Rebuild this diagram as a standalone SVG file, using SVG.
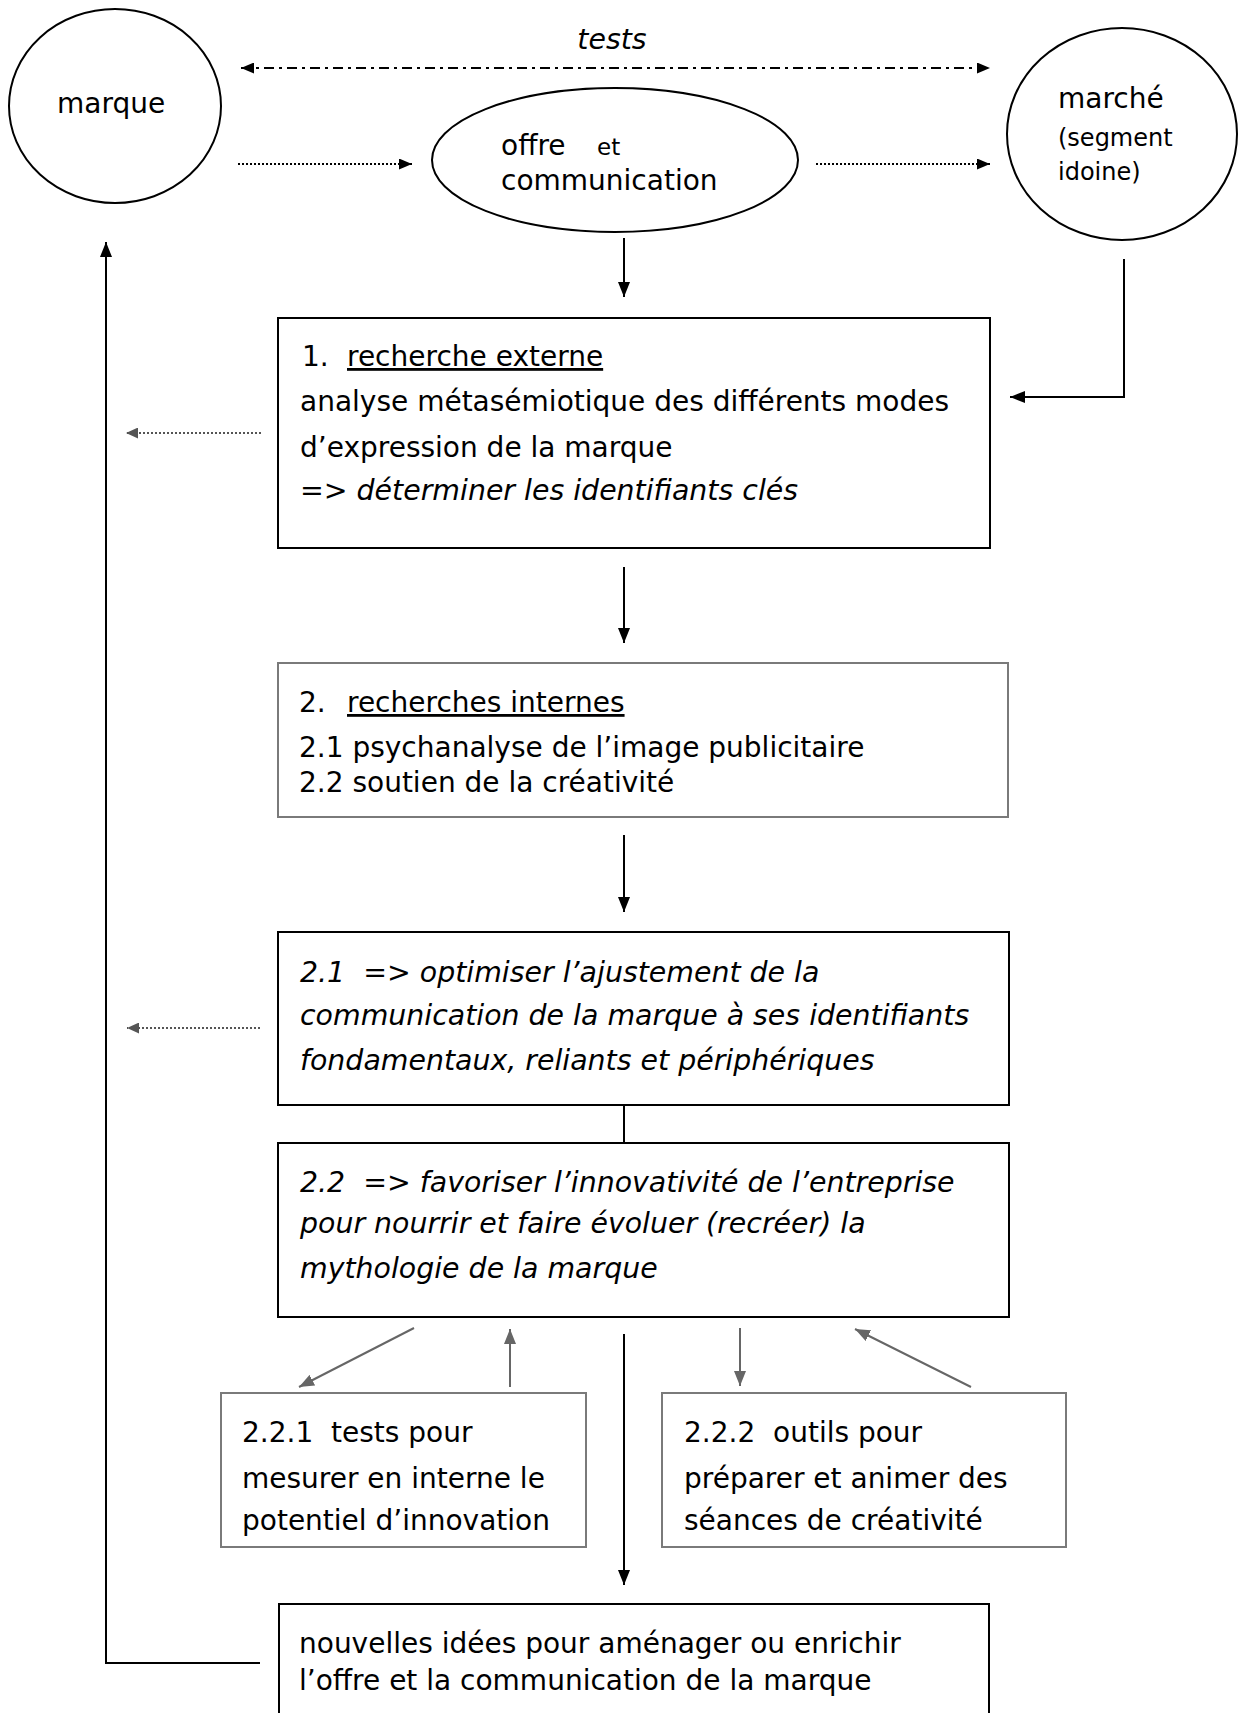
<svg xmlns="http://www.w3.org/2000/svg" width="1239" height="1713" viewBox="0 0 1239 1713">
<defs>
<style>
text{font-family:"DejaVu Sans","Liberation Sans",sans-serif;font-size:28px;fill:#000;white-space:pre}
.i{font-style:italic;font-size:28.4px}
.u{text-decoration:underline}
.sm{font-size:24px}
.et{font-size:23px}
.bk{fill:#fff;stroke:#000;stroke-width:2}
.bg{fill:#fff;stroke:#7a7a7a;stroke-width:2}
.ln{fill:none;stroke:#000;stroke-width:2}
.gl{fill:none;stroke:#666;stroke-width:2}
.dot{fill:none;stroke:#000;stroke-width:2;stroke-dasharray:2 2}
.gdot{fill:none;stroke:#555;stroke-width:2;stroke-dasharray:2 2}
.dd{fill:none;stroke:#000;stroke-width:2;stroke-dasharray:10 5 3 5}
</style>
<marker id="ab" viewBox="0 0 15 12" refX="15" refY="6" markerWidth="15" markerHeight="12" markerUnits="userSpaceOnUse" orient="auto-start-reverse"><path d="M0,0 L15,6 L0,12 z" fill="#000"/></marker>
<marker id="as" viewBox="0 0 13 11" refX="13" refY="5.5" markerWidth="13" markerHeight="11" markerUnits="userSpaceOnUse" orient="auto-start-reverse"><path d="M0,0 L13,5.5 L0,11 z" fill="#000"/></marker>
<marker id="ag" viewBox="0 0 15 12" refX="15" refY="6" markerWidth="15" markerHeight="12" markerUnits="userSpaceOnUse" orient="auto"><path d="M0,0 L15,6 L0,12 z" fill="#666"/></marker>
<marker id="agd" viewBox="0 0 12 11" refX="12" refY="5.5" markerWidth="12" markerHeight="11" markerUnits="userSpaceOnUse" orient="auto"><path d="M0,0 L12,5.5 L0,11 z" fill="#555"/></marker>
</defs>
<rect x="0" y="0" width="1239" height="1713" fill="#fff"/>

<g id="connectors">
  <line class="dd" x1="241" y1="68" x2="990" y2="68" marker-start="url(#as)" marker-end="url(#as)"/>
  <line class="dot" x1="238" y1="164" x2="412" y2="164" marker-end="url(#as)"/>
  <line class="dot" x1="816" y1="164" x2="990" y2="164" marker-end="url(#as)"/>
  <line class="ln" x1="624" y1="238" x2="624" y2="297" marker-end="url(#ab)"/>
  <path class="ln" d="M1124,259 V397 H1010" marker-end="url(#ab)"/>
  <line class="gdot" x1="261" y1="433" x2="126" y2="433" marker-end="url(#agd)"/>
  <path class="ln" d="M260,1663 H106 V242" marker-end="url(#ab)"/>
  <line class="ln" x1="624" y1="567" x2="624" y2="643" marker-end="url(#ab)"/>
  <line class="ln" x1="624" y1="835" x2="624" y2="912" marker-end="url(#ab)"/>
  <line class="gdot" x1="260" y1="1028" x2="127" y2="1028" marker-end="url(#agd)"/>
  <line class="ln" x1="624" y1="1105" x2="624" y2="1143"/>
  <line class="gl" x1="414" y1="1328" x2="299" y2="1387" marker-end="url(#ag)"/>
  <line class="gl" x1="510" y1="1387" x2="510" y2="1329" marker-end="url(#ag)"/>
  <line class="ln" x1="624" y1="1334" x2="624" y2="1585" marker-end="url(#ab)"/>
  <line class="gl" x1="740" y1="1328" x2="740" y2="1386" marker-end="url(#ag)"/>
  <line class="gl" x1="971" y1="1387" x2="855" y2="1329" marker-end="url(#ag)"/>
</g>

<text id="label-tests" class="i" x="612" y="49" text-anchor="middle">tests</text>

<g id="marque">
  <ellipse class="bk" cx="115" cy="106" rx="106" ry="97"/>
  <text x="57" y="113">marque</text>
</g>

<g id="offre">
  <ellipse class="bk" cx="615" cy="160" rx="183" ry="72"/>
  <text x="501" y="155">offre</text>
  <text class="et" x="597" y="155">et</text>
  <text x="501" y="190">communication</text>
</g>

<g id="marche">
  <ellipse class="bk" cx="1122" cy="134" rx="115" ry="106"/>
  <text x="1058" y="108">marché</text>
  <text class="sm" x="1058" y="146">(segment</text>
  <text class="sm" x="1058" y="180">idoine)</text>
</g>

<g id="box1">
  <rect class="bk" x="278" y="318" width="712" height="230"/>
  <text x="302" y="366">1.</text>
  <text class="u" x="347" y="366">recherche externe</text>
  <text x="300" y="411">analyse métasémiotique des différents modes</text>
  <text x="300" y="457">d’expression de la marque</text>
  <text class="i" x="300" y="500">=&gt; déterminer les identifiants clés</text>
</g>

<g id="box2">
  <rect class="bg" x="278" y="663" width="730" height="154"/>
  <text x="299" y="712">2.</text>
  <text class="u" x="347" y="712">recherches internes</text>
  <text x="299" y="757">2.1 psychanalyse de l’image publicitaire</text>
  <text x="299" y="792">2.2 soutien de la créativité</text>
</g>

<g id="box3">
  <rect class="bk" x="278" y="932" width="731" height="173"/>
  <text class="i" x="300" y="982">2.1  =&gt; optimiser l’ajustement de la</text>
  <text class="i" x="300" y="1025">communication de la marque à ses identifiants</text>
  <text class="i" x="300" y="1070">fondamentaux, reliants et périphériques</text>
</g>

<g id="box4">
  <rect class="bk" x="278" y="1143" width="731" height="174"/>
  <text class="i" x="300" y="1192">2.2  =&gt; favoriser l’innovativité de l’entreprise</text>
  <text class="i" x="300" y="1233">pour nourrir et faire évoluer (recréer) la</text>
  <text class="i" x="300" y="1278">mythologie de la marque</text>
</g>

<g id="box221">
  <rect class="bg" x="221" y="1393" width="365" height="154"/>
  <text x="242" y="1442">2.2.1  tests pour</text>
  <text x="242" y="1488">mesurer en interne le</text>
  <text x="242" y="1530">potentiel d’innovation</text>
</g>

<g id="box222">
  <rect class="bg" x="662" y="1393" width="404" height="154"/>
  <text x="684" y="1442">2.2.2  outils pour</text>
  <text x="684" y="1488">préparer et animer des</text>
  <text x="684" y="1530">séances de créativité</text>
</g>

<g id="final">
  <rect class="bk" x="279" y="1604" width="710" height="200"/>
  <text x="299" y="1653">nouvelles idées pour aménager ou enrichir</text>
  <text x="299" y="1690">l’offre et la communication de la marque</text>
</g>
</svg>
